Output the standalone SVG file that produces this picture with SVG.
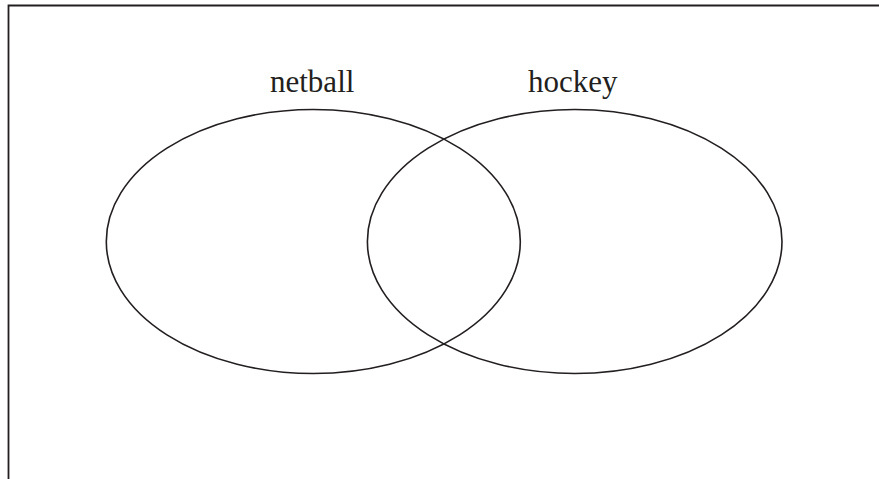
<svg xmlns="http://www.w3.org/2000/svg" width="879" height="479" viewBox="0 0 879 479">
  <style>
    .set { fill: none; stroke: #231f20; stroke-width: 1.6; }
    .frame { fill: none; stroke: #231f20; stroke-width: 1.8; }
    .label { font-family: "Liberation Serif", "Times New Roman", serif; font-size: 31px; fill: #231f20; }
  </style>
  <rect width="879" height="479" fill="#ffffff"/>
  <!-- open frame: top and left edges only -->
  <path class="frame" d="M8.5 479 V5.5 H879"/>
  <g id="netball">
    <ellipse class="set" cx="313.3" cy="241.5" rx="207" ry="132"/>
    <text class="label" x="270" y="92">netball</text>
  </g>
  <g id="hockey">
    <ellipse class="set" cx="574.7" cy="241.5" rx="207.3" ry="132"/>
    <text class="label" x="528" y="92">hockey</text>
  </g>
  <g id="connectors"/>
</svg>
